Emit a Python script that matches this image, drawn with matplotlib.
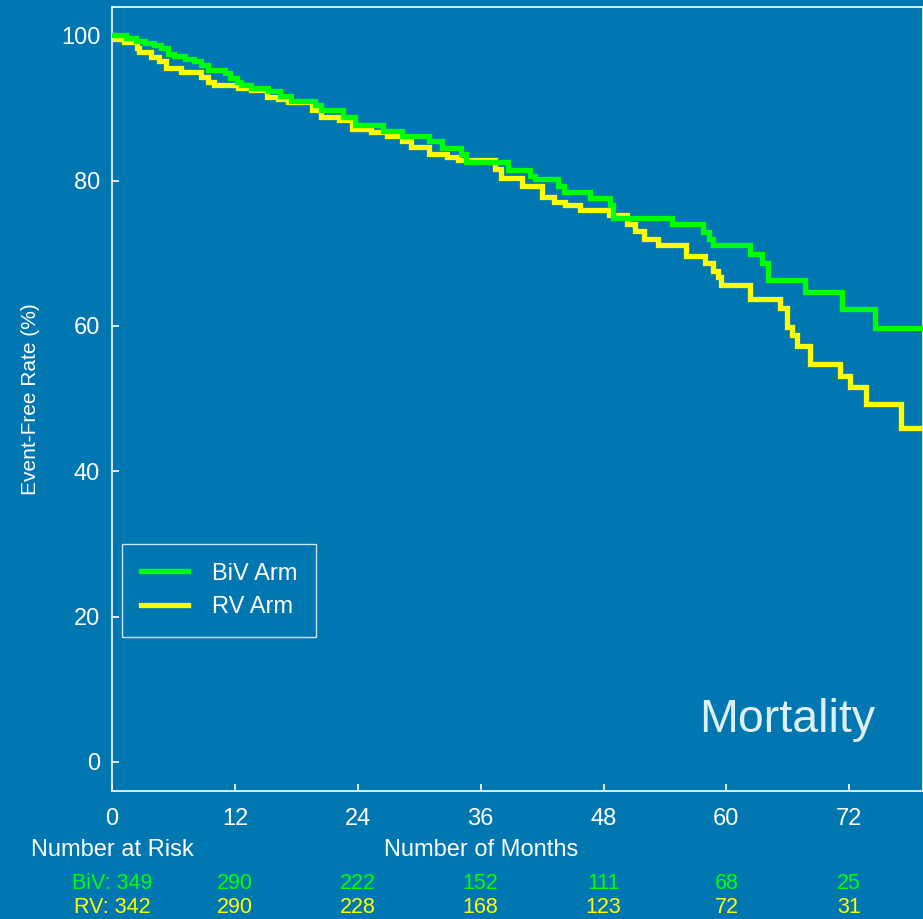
import matplotlib
matplotlib.use("Agg")
import matplotlib.pyplot as plt
import numpy as np

BG = "#0077B0"
FG = "white"
BIV_COLOR = "#00FF00"
RV_COLOR = "#FFFF00"

plt.rcParams['font.family'] = ['Liberation Sans', 'DejaVu Sans']

# Kaplan-Meier steps (months, event-free %)
biv_months = [0, 1.4, 2.35, 3.2, 4.15, 4.8, 5.45, 6.1, 7.1, 8.05, 8.7, 9.35, 11.0, 11.5,
              12.2, 12.6, 13.6, 15.2, 16.4, 17.5, 19.8, 20.4, 22.6, 23.7, 26.5, 28.3,
              31.0, 32.2, 34.1, 34.6, 38.7, 40.8, 41.3, 43.6, 44.1, 46.7, 48.6, 48.9,
              54.7, 57.7, 58.3, 58.7, 62.3, 63.5, 64.1, 67.7, 71.3, 74.5, 79.2]
biv_surv = [100, 99.6, 99.2, 98.9, 98.7, 98.2, 97.5, 97.1, 96.7, 96.5, 95.9, 95.2, 94.8, 94.1,
            93.6, 93.2, 92.8, 92.3, 91.7, 91.0, 90.4, 89.7, 88.7, 87.6, 86.9, 86.1,
            85.4, 84.5, 83.7, 82.5, 81.4, 80.7, 80.2, 79.2, 78.4, 77.6, 76.6, 74.8,
            74.0, 72.9, 72.0, 71.1, 69.9, 68.6, 66.3, 64.7, 62.3, 59.75, 59.75]

rv_months = [0, 0.2, 1.2, 2.4, 2.6, 3.8, 4.6, 5.3, 6.75, 8.7, 9.35, 10.0, 12.3, 13.6,
             15.1, 16.2, 17.2, 19.5, 20.4, 22.2, 23.4, 25.3, 26.9, 28.3, 29.2, 31.0,
             32.7, 33.8, 37.4, 38.0, 40.0, 42.0, 43.2, 44.2, 45.7, 48.5, 50.3, 51.1,
             52.0, 53.3, 56.1, 57.9, 58.7, 59.2, 59.5, 62.3, 65.2, 65.9, 66.4, 66.9,
             68.2, 71.1, 72.1, 73.6, 77.1, 79.2]
rv_surv = [100, 99.5, 99.1, 98.3, 97.7, 97.0, 96.4, 95.5, 94.9, 94.3, 93.6, 93.1, 92.7, 92.5,
           91.5, 91.3, 90.8, 89.7, 88.75, 88.3, 87.1, 86.7, 86.2, 85.4, 84.6, 83.7,
           83.3, 82.8, 81.6, 80.3, 79.3, 77.7, 77.1, 76.6, 75.9, 75.3, 74.1, 73.1,
           72.0, 71.1, 69.6, 68.6, 67.6, 66.7, 65.7, 63.7, 62.5, 59.8, 58.7, 57.3,
           54.8, 53.1, 51.6, 49.3, 46.0, 46.0]

tick_months = [0, 12, 24, 36, 48, 60, 72]
biv_at_risk = ["BiV: 349", "290", "222", "152", "111", "68", "25"]
rv_at_risk = ["RV: 342", "290", "228", "168", "123", "72", "31"]

fig = plt.figure(figsize=(9.23, 9.19), dpi=100, facecolor=BG)
ax = fig.add_axes([112 / 923, (919 - 791) / 919, 1 - 112 / 923, (791 - 7) / 919], facecolor=BG)

ax.step(biv_months, biv_surv, where='post', color=BIV_COLOR, lw=3.8,
        solid_joinstyle='miter', label="BiV Arm", zorder=3)
ax.step(rv_months, rv_surv, where='post', color=RV_COLOR, lw=3.8,
        solid_joinstyle='miter', label="RV Arm", zorder=2)

ax.set_xlim(0, 79.2)
ax.set_ylim(-4.0, 103.9)
ax.set_xticks(tick_months)
ax.set_yticks([0, 20, 40, 60, 80, 100])
ax.tick_params(direction='in', length=5, width=1.2, colors=FG, labelsize=17,
               labelcolor=FG)
ax.tick_params(axis='x', pad=12)
ax.tick_params(axis='y', pad=8.5)
for s in ax.spines.values():
    s.set_color(FG)
    s.set_linewidth(1.2)

ax.set_ylabel("Event-Free Rate (%)", color=FG, fontsize=15)
ax.yaxis.set_label_coords(-72 / 811, 0.5)

leg = ax.legend(loc='lower left', bbox_to_anchor=(0.0123, 0.196), fontsize=17,
                frameon=True, fancybox=False, handlelength=2.0, handletextpad=1.0,
                borderpad=0.8, labelspacing=0.5, borderaxespad=0)
leg.get_frame().set_facecolor(BG)
leg.get_frame().set_edgecolor(FG)
leg.get_frame().set_linewidth(1.0)
for t in leg.get_texts():
    t.set_color(FG)

ax.text(0.941, 0.0753, "Mortality", transform=ax.transAxes, ha='right', va='baseline',
        fontsize=33.5, color="#DDF0F5")

# number-at-risk table under the axis
tr = ax.get_xaxis_transform()
ax.text(0, -0.0755, "Number at Risk", transform=tr, ha='center', va='center',
        fontsize=17, color=FG, clip_on=False)
ax.text(36, -0.0755, "Number of Months", transform=tr, ha='center', va='center',
        fontsize=17, color=FG, clip_on=False)
for m, b, r in zip(tick_months, biv_at_risk, rv_at_risk):
    ax.text(m, -0.1185, b, transform=tr, ha='center', va='center', fontsize=15.5,
            color=BIV_COLOR, clip_on=False)
    ax.text(m, -0.1485, r, transform=tr, ha='center', va='center', fontsize=15.5,
            color=RV_COLOR, clip_on=False)

fig.savefig("out.png", dpi=100, facecolor=BG)
